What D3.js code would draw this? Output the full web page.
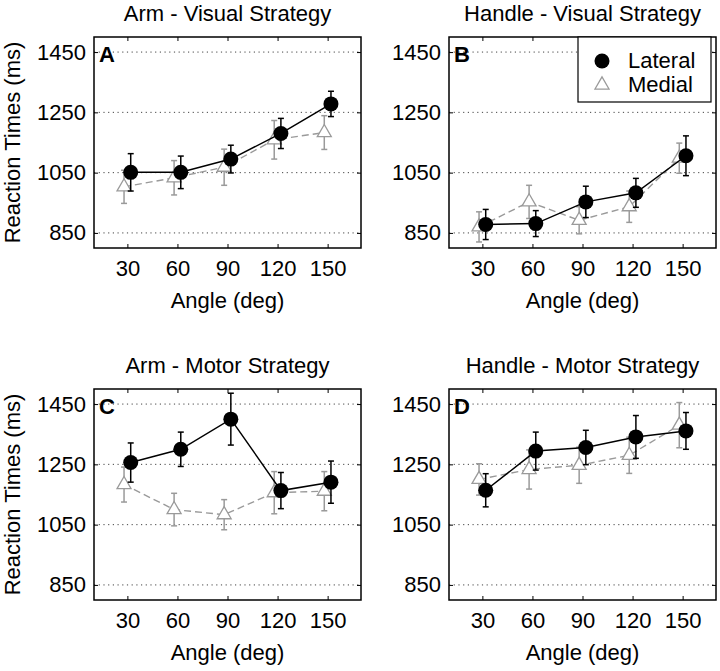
<!DOCTYPE html>
<html>
<head>
<meta charset="utf-8">
<script src="https://cdn.jsdelivr.net/npm/d3@7"></script>
<style>
	body { margin: 0; background: #fff; }
	svg text { font-family: "Liberation Sans", Arial, sans-serif; fill: #000; }
</style>
</head>
<body>
<svg id="chart" width="720" height="671"></svg>
<script>
// data
var angles = [30, 60, 90, 120, 150];
var yTicks = [850, 1050, 1250, 1450];
var panelTitles = ["Arm - Visual Strategy", "Handle - Visual Strategy", "Arm - Motor Strategy", "Handle - Motor Strategy"];
var panelLetters = ["A", "B", "C", "D"];
var seriesNames = ["Lateral", "Medial"];

var lateralMeans = [
	[1051, 1051, 1095, 1180, 1278],
	[878, 881, 953, 983, 1106],
	[1256, 1300, 1400, 1163, 1191],
	[1164, 1294, 1306, 1341, 1361]
];
var lateralErrs = [
	[62, 54, 46, 50, 42],
	[50, 43, 52, 48, 66],
	[65, 57, 86, 60, 70],
	[55, 63, 57, 71, 61]
];
var medialMeans = [
	[1003, 1033, 1068, 1159, 1183],
	[870, 953, 892, 937, 1098],
	[1183, 1100, 1083, 1156, 1161],
	[1200, 1233, 1247, 1280, 1380]
];
var medialErrs = [
	[55, 57, 60, 64, 56],
	[50, 55, 45, 52, 50],
	[58, 54, 50, 70, 65],
	[52, 65, 60, 60, 75]
];

var svg = d3.select("#chart");
var panelW = 267, panelH = 211;
var panelPos = [[94, 37], [449, 37], [94, 389], [449, 389]];
var fontSize = "22px";

var x = d3.scaleLinear().domain([10, 170]).range([0, panelW]);
var y = d3.scaleLinear().domain([800, 1500]).range([panelH, 0]);

for (var p = 0; p < 4; p++) {
	drawPanel(p);
}
drawLegend();

function drawPanel(p) {
	var g = svg.append("g")
		.attr("transform", "translate(" + panelPos[p][0] + "," + panelPos[p][1] + ")");

	// dotted grid
	g.selectAll(".grid")
		.data(yTicks)
		.enter()
		.append("line")
		.attr("class", "grid")
		.attr("x1", 0)
		.attr("x2", panelW)
		.attr("y1", function(d) { return y(d); })
		.attr("y2", function(d) { return y(d); })
		.attr("stroke", "#444")
		.attr("stroke-width", 1)
		.attr("stroke-dasharray", "1.2,3.5");

	// axes, matlab style: ticks inside on all four sides
	var xb = g.append("g").attr("transform", "translate(0," + panelH + ")")
		.call(d3.axisBottom(x).tickValues(angles).tickSizeInner(-4).tickSizeOuter(0).tickPadding(12).tickFormat(d3.format("d")));
	var xt = g.append("g")
		.call(d3.axisTop(x).tickValues(angles).tickSizeInner(-4).tickSizeOuter(0).tickFormat(""));
	var yl = g.append("g")
		.call(d3.axisLeft(y).tickValues(yTicks).tickSizeInner(-4).tickSizeOuter(0).tickPadding(8).tickFormat(d3.format("d")));
	var yr = g.append("g").attr("transform", "translate(" + panelW + ",0)")
		.call(d3.axisRight(y).tickValues(yTicks).tickSizeInner(-4).tickSizeOuter(0).tickFormat(""));
	[xb, xt, yl, yr].forEach(function(a) {
		a.select(".domain").remove();
		a.selectAll("line").attr("stroke", "#000").attr("stroke-width", 1);
		a.selectAll("text").style("font-size", fontSize).attr("fill", "#000");
	});
	xb.selectAll("text").attr("dy", "0.71em");

	g.append("rect")
		.attr("x", 0)
		.attr("y", 0)
		.attr("width", panelW)
		.attr("height", panelH)
		.attr("fill", "none")
		.attr("stroke", "#000")
		.attr("stroke-width", 1.5);

	// titles and labels
	g.append("text")
		.attr("x", panelW / 2)
		.attr("y", -16)
		.attr("text-anchor", "middle")
		.style("font-size", fontSize)
		.text(panelTitles[p]);
	g.append("text")
		.attr("x", panelW / 2)
		.attr("y", panelH + 60)
		.attr("text-anchor", "middle")
		.style("font-size", fontSize)
		.text("Angle (deg)");
	g.append("text")
		.attr("x", 5)
		.attr("y", 25)
		.style("font-size", "22px")
		.style("font-weight", "bold")
		.text(panelLetters[p]);
	if (p % 2 == 0) {
		g.append("text")
			.attr("transform", "translate(" + (-74) + "," + (panelH / 2) + ") rotate(-90)")
			.attr("text-anchor", "middle")
			.style("font-size", fontSize)
			.text("Reaction Times (ms)");
	}

	var med = angles.map(function(a, i) { return [a - 2, medialMeans[p][i], medialErrs[p][i]]; });
	var lat = angles.map(function(a, i) { return [a + 2, lateralMeans[p][i], lateralErrs[p][i]]; });

	drawSeries(g, med, "#9a9a9a", "7,4", false);
	drawSeries(g, lat, "#000", null, true);
}

function drawSeries(g, pts, color, dash, filled) {
	var line = d3.line()
		.x(function(d) { return x(d[0]); })
		.y(function(d) { return y(d[1]); });
	g.append("path")
		.datum(pts)
		.attr("d", line)
		.attr("fill", "none")
		.attr("stroke", color)
		.attr("stroke-width", filled ? 1.5 : 1.4)
		.attr("stroke-dasharray", dash);

	var eb = g.selectAll(null)
		.data(pts)
		.enter()
		.append("g")
		.attr("stroke", color)
		.attr("stroke-width", 1.5);
	eb.append("line")
		.attr("x1", function(d) { return x(d[0]); })
		.attr("x2", function(d) { return x(d[0]); })
		.attr("y1", function(d) { return y(d[1] - d[2]); })
		.attr("y2", function(d) { return y(d[1] + d[2]); });
	[-1, 1].forEach(function(s) {
		eb.append("line")
			.attr("x1", function(d) { return x(d[0]) - 3; })
			.attr("x2", function(d) { return x(d[0]) + 3; })
			.attr("y1", function(d) { return y(d[1] + s * d[2]); })
			.attr("y2", function(d) { return y(d[1] + s * d[2]); });
	});

	if (filled) {
		g.selectAll(null)
			.data(pts)
			.enter()
			.append("circle")
			.attr("cx", function(d) { return x(d[0]); })
			.attr("cy", function(d) { return y(d[1]); })
			.attr("r", 7.5)
			.attr("fill", "#000");
	} else {
		g.selectAll(null)
			.data(pts)
			.enter()
			.append("path")
			.attr("d", d3.symbol().type(d3.symbolTriangle).size(85))
			.attr("transform", function(d) { return "translate(" + x(d[0]) + "," + y(d[1]) + ")"; })
			.attr("fill", "#fff")
			.attr("stroke", color)
			.attr("stroke-width", 1.3);
	}
}

function drawLegend() {
	var lx = panelPos[1][0] + 129, ly = panelPos[1][1];
	var lg = svg.append("g").attr("transform", "translate(" + lx + "," + ly + ")");
	lg.append("rect")
		.attr("x", 0)
		.attr("y", 0)
		.attr("width", 133)
		.attr("height", 65)
		.attr("fill", "#fff")
		.attr("stroke", "#000")
		.attr("stroke-width", 1.2);
	lg.append("circle")
		.attr("cx", 24)
		.attr("cy", 24)
		.attr("r", 7.5)
		.attr("fill", "#000");
	lg.append("path")
		.attr("d", d3.symbol().type(d3.symbolTriangle).size(85))
		.attr("transform", "translate(24,48)")
		.attr("fill", "#fff")
		.attr("stroke", "#9a9a9a")
		.attr("stroke-width", 1.3);
	lg.selectAll(".lt")
		.data(seriesNames)
		.enter()
		.append("text")
		.attr("class", "lt")
		.attr("x", 50)
		.attr("y", function(d, i) { return 31 + i * 24; })
		.style("font-size", fontSize)
		.text(function(d) { return d; });
}
</script>
</body>
</html>
